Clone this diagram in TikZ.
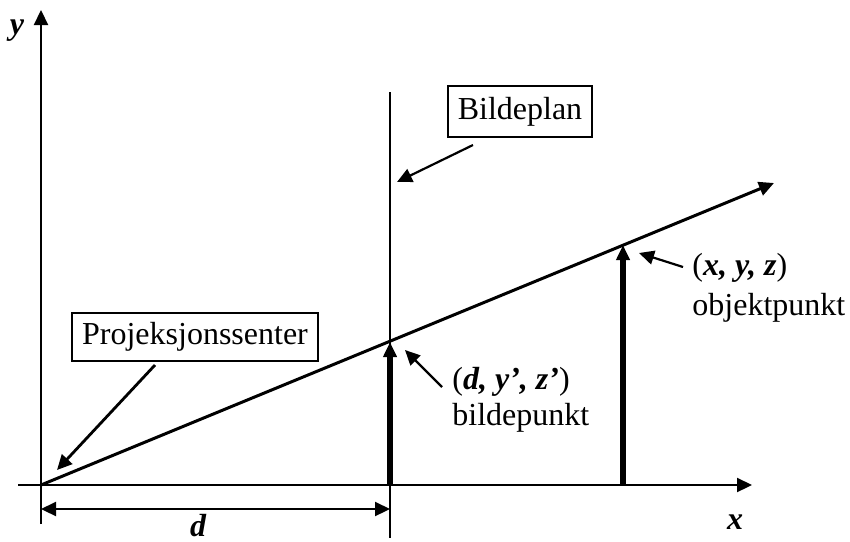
\documentclass[tikz,border=0pt]{standalone}
\usepackage{fontspec}
\setmainfont{Liberation Serif}
\usetikzlibrary{arrows.meta}
\tikzset{
  tri/.style={-{Triangle[length=7.5pt,width=7pt]}},
  thin/.style={line width=1.1pt},
  thickarr/.style={line width=3pt,-{Triangle[length=7.5pt,width=6.5pt]}},
  lbl/.style={font=\fontsize{16}{18}\selectfont, inner sep=0pt},
  var/.style={font=\fontsize{16}{18}\selectfont\bfseries\itshape, inner sep=0pt},
  boxed/.style={draw, line width=1pt, font=\fontsize{16}{18}\selectfont, inner sep=0pt}
}
\begin{document}
\begin{tikzpicture}[x=0.5pt,y=-0.5pt]
\useasboundingbox (0,0) rectangle (850,541);
% coordinates
\coordinate (O) at (41,485);
\coordinate (yb) at (41,524);
\coordinate (yt) at (41,10);
\coordinate (xl) at (18,485);
\coordinate (xr) at (752,485);
\coordinate (pt) at (390,92);
\coordinate (pb) at (390,538);
\coordinate (P) at (390,342);
\coordinate (Pb) at (390,485);
\coordinate (Q) at (623,245);
\coordinate (Qb) at (623,485);
\coordinate (R) at (774,183);
\coordinate (dl) at (41,509);
\coordinate (dr) at (390,509);
% axes
\draw[thin,tri] (yb) -- (yt);
\draw[thin,tri] (xl) -- (xr);
\draw[thin] (pt) -- (pb);
\draw[line width=1.5pt,tri] (O) -- (R);
\draw[thickarr] (Pb) -- (P);
\draw[thickarr] (Qb) -- (Q);
\draw[thin,{Triangle[length=7.5pt,width=7pt]}-{Triangle[length=7.5pt,width=7pt]}] (dl) -- (dr);
% labels
\node[var] (ylab) at (17,31) {y};
\node[var] (xlab) at (735,522) {x};
\node[var] (dlab) at (198,526) {d};
\node[boxed, minimum width=72pt, minimum height=25.5pt] (bp) at (520,111.5) {Bildeplan};
\node[boxed, minimum width=123pt, minimum height=24pt] (ps) at (195,337) {Projeksjonssenter};
\node[lbl, anchor=west] (obj1) at (692,268) {(\textbf{\textit{x, y, z}})};
\node[lbl, anchor=west] (obj2) at (692,308) {objektpunkt};
\node[lbl, anchor=west] (bil1) at (452,382) {(\textbf{\textit{d, y’, z’}})};
\node[lbl, anchor=west] (bil2) at (452,418) {bildepunkt};
% pointer arrows
\coordinate (bpa) at (473,145);
\coordinate (bpt) at (397,182);
\coordinate (psa) at (155,365);
\coordinate (pst) at (57,470);
\coordinate (oba) at (683,267);
\coordinate (obt) at (639,253);
\coordinate (bia) at (442,387);
\coordinate (bit) at (405,350);
\draw[thin,tri] (bpa) -- (bpt);
\draw[line width=1.4pt,tri] (psa) -- (pst);
\draw[thin,tri] (oba) -- (obt);
\draw[thin,tri] (bia) -- (bit);
\end{tikzpicture}
\end{document}
